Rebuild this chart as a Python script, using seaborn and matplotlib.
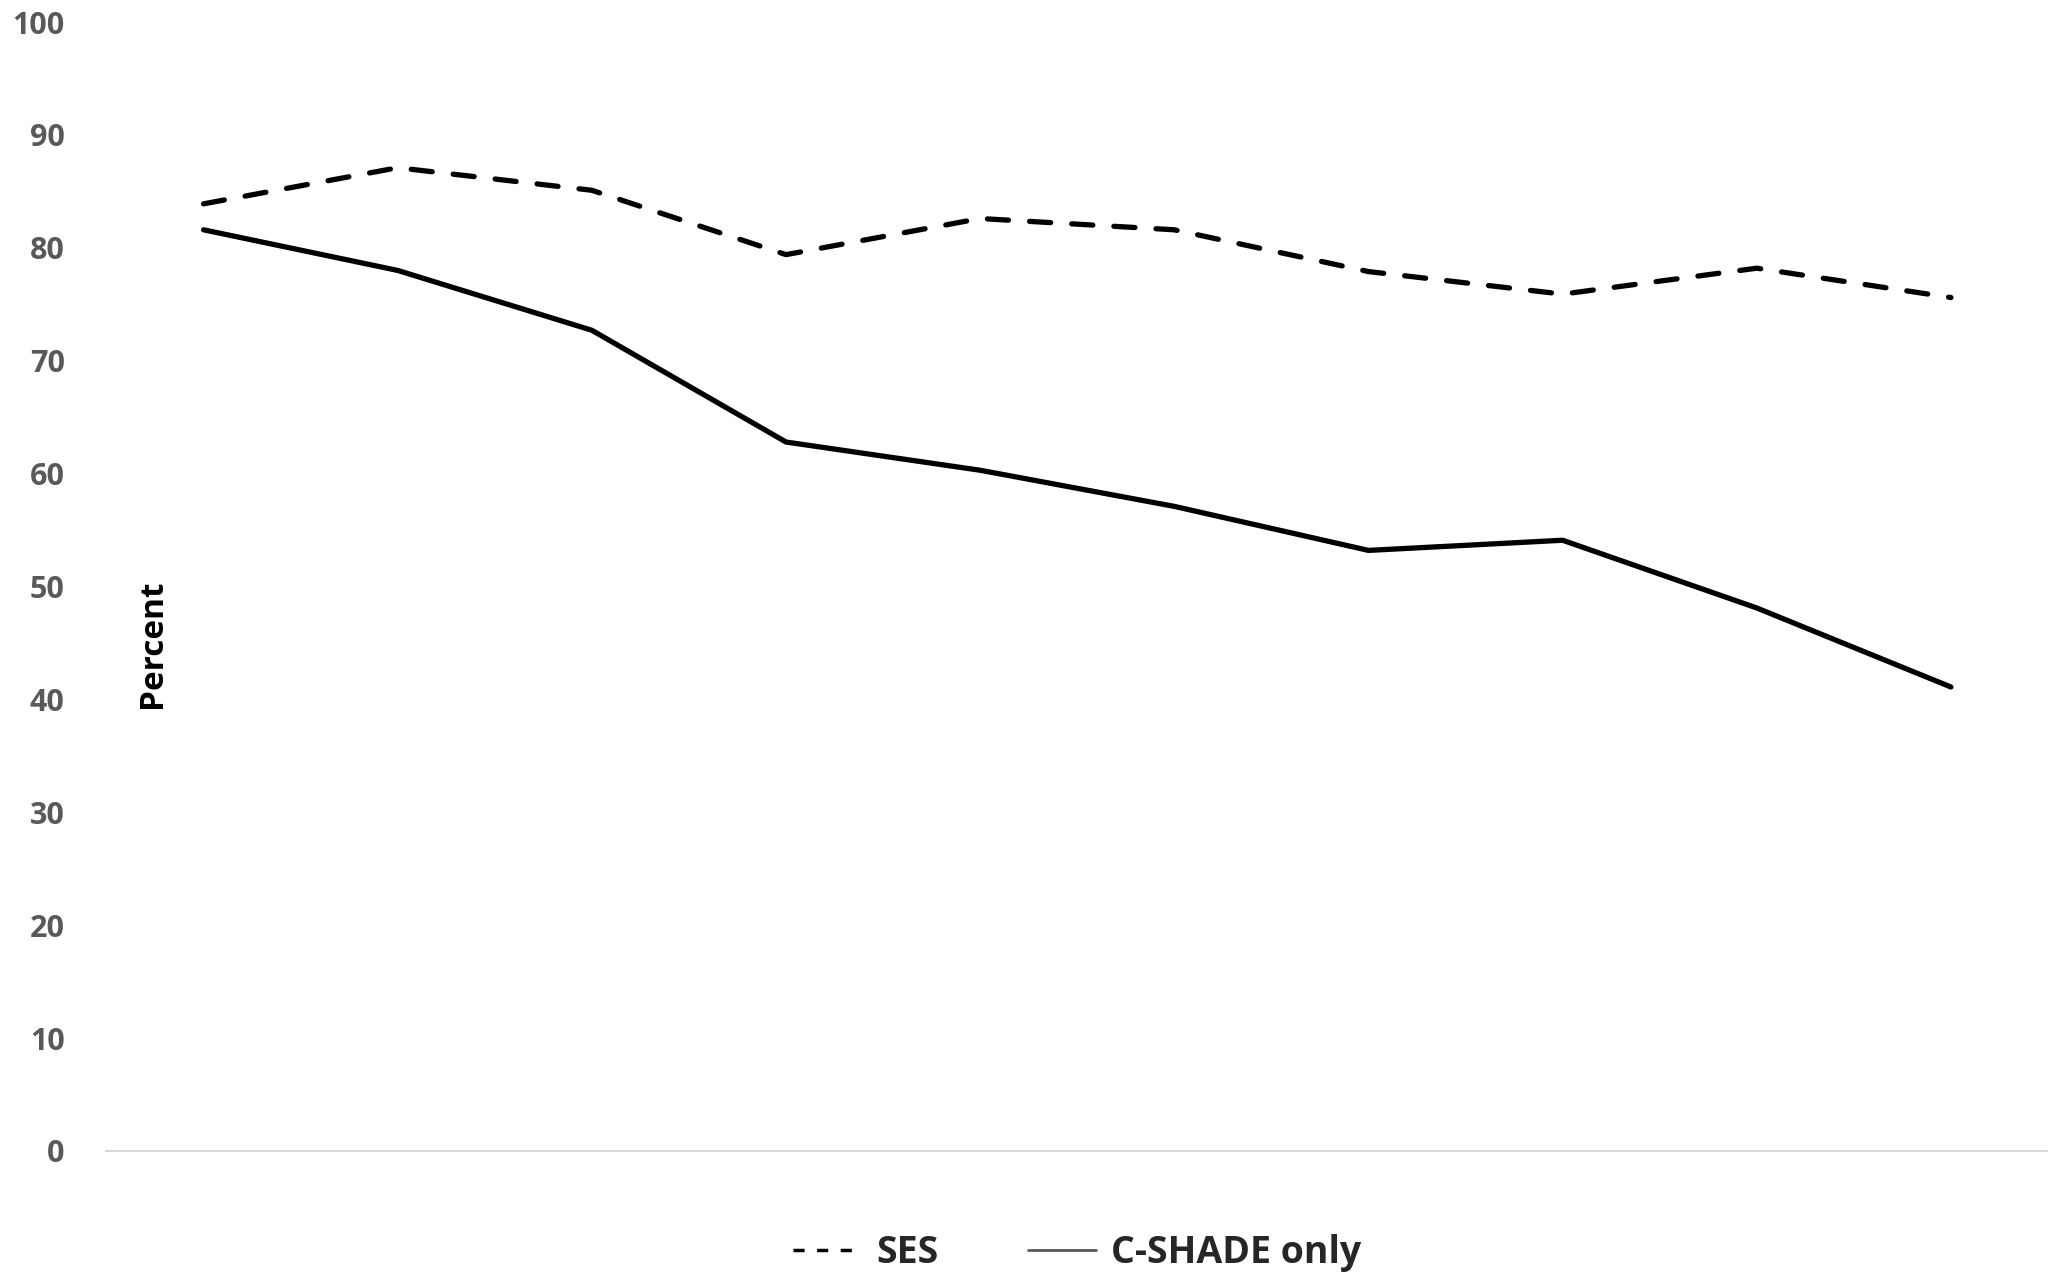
import numpy as np
import pandas as pd
import matplotlib
matplotlib.use("Agg")
import matplotlib.pyplot as plt
from matplotlib.lines import Line2D
import seaborn as sns

# data (10 unlabeled time points)
points = list(range(1, 11))
ses = [83.9, 87.1, 85.1, 79.4, 82.6, 81.6, 77.9, 75.9, 78.2, 75.6]
cshade = [81.6, 78.0, 72.7, 62.8, 60.3, 57.1, 53.2, 54.1, 48.1, 41.1]
yticks = list(range(0, 101, 10))

df = pd.DataFrame({"point": points * 2,
                   "value": ses + cshade,
                   "group": ["SES"] * 10 + ["C-SHADE only"] * 10})

sns.set_style("white")
plt.rcParams["font.family"] = ["Open Sans", "DejaVu Sans"]

fig = plt.figure(figsize=(20.48, 12.77), dpi=100)
ax = fig.add_axes([0.052, 0.0987, 0.948, 0.884])

sns.lineplot(data=df, x="point", y="value", hue="group", style="group",
             palette={"SES": "black", "C-SHADE only": "black"},
             dashes={"SES": (4, 4), "C-SHADE only": ""},
             linewidth=3.8, legend=False, ax=ax)
for ln in ax.get_lines():
    ln.set_solid_capstyle("round")
    ln.set_dash_capstyle("round")

ax.set_xlim(0.5, 10.5)
ax.set_ylim(0, 100)
ax.set_yticks(yticks)
ax.set_yticklabels([str(t) for t in yticks], fontsize=22, fontweight="bold",
                   color="#595959")
ax.set_xticks([])
ax.tick_params(axis="y", length=0, pad=30)
for side in ["top", "right", "left"]:
    ax.spines[side].set_visible(False)
ax.spines["bottom"].set_color("#d9d9d9")
ax.spines["bottom"].set_linewidth(1.5)
ax.set_xlabel("")
ax.set_ylabel("Percent", fontsize=24, fontweight="bold", color="black")
ax.yaxis.set_label_coords(0.032, 0.449)

handles = [Line2D([], [], color="black", linestyle=(0, (3.2, 3.6)), linewidth=2.5),
           Line2D([], [], color="#595959", linewidth=2)]
fig.legend(handles, ["SES", "C-SHADE only"], loc="center",
           bbox_to_anchor=(0.526, 0.019), ncol=2, frameon=False,
           prop={"size": 27, "weight": "bold"}, handlelength=1.8,
           columnspacing=2.4, handletextpad=0.4)

fig.savefig("out.png", dpi=100, facecolor="white")
